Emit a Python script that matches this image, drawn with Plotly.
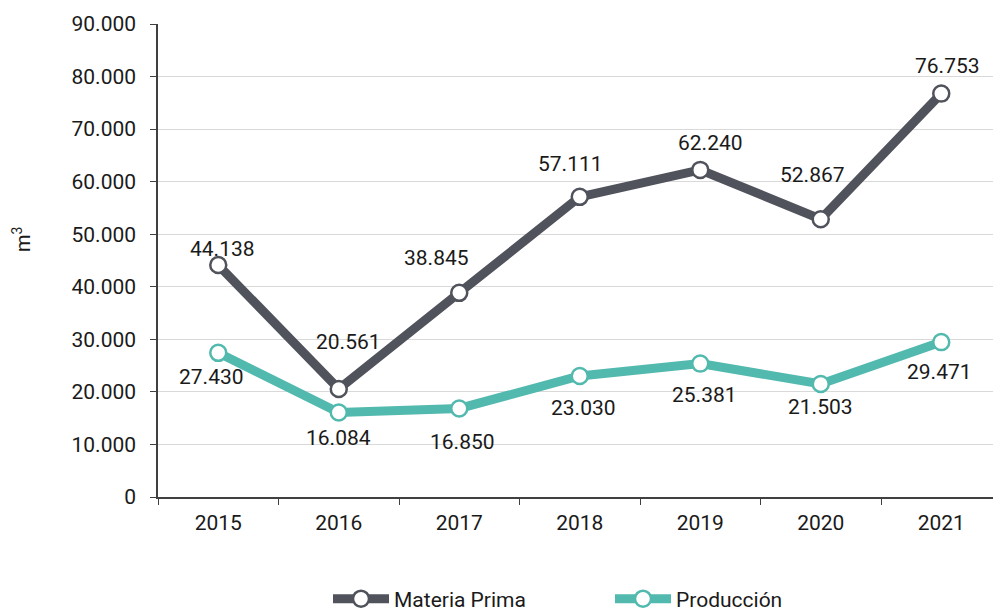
import plotly.graph_objects as go

years = ["2015", "2016", "2017", "2018", "2019", "2020", "2021"]
materia_prima = [44138, 20561, 38845, 57111, 62240, 52867, 76753]
produccion = [27430, 16084, 16850, 23030, 25381, 21503, 29471]
y_ticks = [0, 10000, 20000, 30000, 40000, 50000, 60000, 70000, 80000, 90000]

# label offsets (px)
mp_shift = [(4, 16), (10, 47), (-23, 35), (-9, 33), (10, 27), (-8, 44), (6, 28)]
pr_shift = [(-7, -24), (0, -26), (3, -34), (4, -32), (4, -31), (0, -23), (-2, -30)]

C_MP = "#50535C"
C_PR = "#52B9AE"
FONT = "Roboto"
FS = 21

# page body margin is removed (post_script), so the figure fills the 993x614 window
W, H = 993, 614
ML, MT = 158, 24
MB = H - 497
PW, PH = W - ML, H - MT - MB
UNIT = 120.5  # px per category in the reference
X_MAX = -0.5 + PW / UNIT


def fmt(v):
    return f"{v:,}".replace(",", ".")


fig = go.Figure()
fig.add_trace(go.Scatter(
    x=years, y=materia_prima, name="Materia Prima", mode="lines+markers",
    line=dict(color=C_MP, width=9),
    marker=dict(size=16, color="white", line=dict(color=C_MP, width=2.5)),
))
fig.add_trace(go.Scatter(
    x=years, y=produccion, name="Producción", mode="lines+markers",
    line=dict(color=C_PR, width=9),
    marker=dict(size=16, color="white", line=dict(color=C_PR, width=2.5)),
))

annotations = []
for i, (v, (dx, dy)) in enumerate(zip(materia_prima, mp_shift)):
    annotations.append(dict(x=i, y=v, xref="x", yref="y", text=fmt(v), showarrow=False,
                            xanchor="center", yanchor="middle",
                            xshift=dx, yshift=dy, font=dict(family=FONT, size=FS, color="#1a1a1a")))
for i, (v, (dx, dy)) in enumerate(zip(produccion, pr_shift)):
    annotations.append(dict(x=i, y=v, xref="x", yref="y", text=fmt(v), showarrow=False,
                            xanchor="center", yanchor="middle",
                            xshift=dx, yshift=dy, font=dict(family=FONT, size=FS, color="#1a1a1a")))
annotations.append(dict(x=(22 - ML) / PW, y=(H - 240 - MB) / PH, xref="paper", yref="paper",
                        text="m<sup>3</sup>", showarrow=False, xanchor="center", yanchor="middle",
                        textangle=-90, font=dict(family=FONT, size=20, color="#1a1a1a")))

fig.update_layout(
    width=W, height=H,
    margin=dict(l=ML, r=0, t=MT, b=MB, pad=0, autoexpand=False),
    paper_bgcolor="white", plot_bgcolor="white",
    font=dict(family=FONT, size=FS, color="#1a1a1a"),
    separators=",.",
    showlegend=True,
    legend=dict(orientation="h", x=(328 - ML) / PW, xanchor="left",
                y=(H - 599 - MB) / PH, yanchor="middle",
                itemwidth=56, entrywidth=211, entrywidthmode="pixels",
                font=dict(family=FONT, size=FS, color="#1a1a1a")),
    annotations=annotations,
    xaxis=dict(type="category", range=[-0.5, X_MAX], tickson="boundaries",
               ticks="outside", ticklen=6, tickcolor="#404040", tickwidth=1,
               ticklabelstandoff=6, automargin=False,
               showline=True, linecolor="#404040", linewidth=1.5,
               showgrid=False, zeroline=False, fixedrange=True),
    yaxis=dict(range=[0, 90000], tickvals=y_ticks, ticktext=[fmt(v) for v in y_ticks],
               ticks="outside", ticklen=6, tickcolor="#404040", tickwidth=1,
               ticklabelstandoff=10, automargin=False,
               showline=True, linecolor="#404040", linewidth=1.5,
               showgrid=True, gridcolor="#D9D9D9", gridwidth=1, zeroline=False),
)

fig.write_html("out.html", config={"displayModeBar": False},
               post_script="document.body.style.margin='0';document.body.style.overflow='hidden';")
